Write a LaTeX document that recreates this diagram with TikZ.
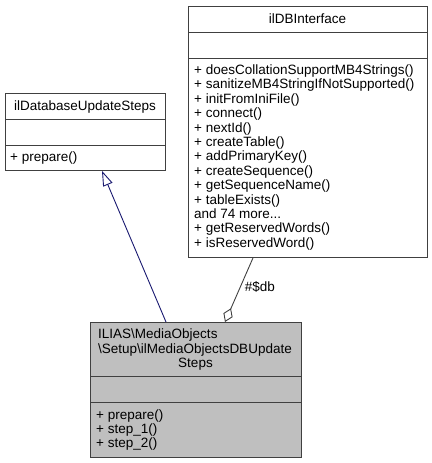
\documentclass[tikz,border=0pt]{standalone}
\usepackage{fontspec}
\setmainfont{Liberation Sans}
\usetikzlibrary{arrows.meta,calc}
\definecolor{edgeblue}{RGB}{25,25,112}
\definecolor{boxline}{RGB}{64,64,64}
\begin{document}
\begin{tikzpicture}[x=1pt,y=-1pt,
  box/.style={draw=boxline, line width=0.9pt, inner sep=0pt, anchor=north west},
  txt/.style={anchor=base west, inner sep=0pt, font=\fontsize{13.5}{14.4}\selectfont},
  ttl/.style={anchor=base, inner sep=0pt, font=\fontsize{13.5}{14.4}\selectfont},
  sepline/.style={draw=boxline, line width=0.9pt},
  inh/.style={draw=edgeblue, line width=0.9pt, -{Triangle[open,length=15pt,width=10pt]}},
  agg/.style={draw=boxline, line width=0.9pt, {Diamond[open,length=15pt,width=10pt]}-}]
\useasboundingbox (0,0) rectangle (431,463);
% ilDBInterface
\node[box, minimum width=239pt, minimum height=251pt] (dbi) at (188,6) {};
\draw[sepline] ($(dbi.north west)+(0,26)$) -- ($(dbi.north east)+(0,26)$);
\draw[sepline] ($(dbi.north west)+(0,52)$) -- ($(dbi.north east)+(0,52)$);
\node[ttl] (dbit) at (307.5,23.5) {ilDBInterface};
\foreach \t [count=\i from 0] in {%
  {+ doesCollationSupportMB4Strings()},
  {+ sanitizeMB4StringIfNotSupported()},
  {+ initFromIniFile()},
  {+ connect()},
  {+ nextId()},
  {+ createTable()},
  {+ addPrimaryKey()},
  {+ createSequence()},
  {+ getSequenceName()},
  {+ tableExists()},
  {and 74 more{.}{.}{.}},
  {+ getReservedWords()},
  {+ isReservedWord()}}
  \node[txt] (dbim\i) at (194,74.5+14.4*\i) {\t};
% ilDatabaseUpdateSteps
\node[box, minimum width=160pt, minimum height=77pt] (steps) at (5,93) {};
\draw[sepline] ($(steps.north west)+(0,26)$) -- ($(steps.north east)+(0,26)$);
\draw[sepline] ($(steps.north west)+(0,52)$) -- ($(steps.north east)+(0,52)$);
\node[ttl] (stepst) at (85,110.5) {ilDatabaseUpdateSteps};
\node[txt] (stepsm) at (10,161.5) {+ prepare()};
% class
\node[box, fill=gray!50, minimum width=211pt, minimum height=135pt] (cls) at (90,322) {};
\draw[sepline] ($(cls.north west)+(0,54)$) -- ($(cls.north east)+(0,54)$);
\draw[sepline] ($(cls.north west)+(0,80)$) -- ($(cls.north east)+(0,80)$);
\node[txt] (clst1) at (98,338.5) {ILIAS\textbackslash MediaObjects};
\node[txt] (clst2) at (98,353) {\textbackslash Setup\textbackslash ilMediaObjectsDBUpdate};
\node[ttl] (clst3) at (195.5,367.5) {Steps};
\node[txt] (clsm1) at (96,419) {+ prepare()};
\node[txt] (clsm2) at (96,433.4) {+ step\_1()};
\node[txt] (clsm3) at (96,447.8) {+ step\_2()};
% edges
\draw[inh] ($(cls.north west)+(76,0)$) -- ($(steps.south west)+(97,0)$);
\draw[agg] ($(cls.north west)+(135,0)$) -- ($(dbi.south west)+(65,0)$)
  node[pos=0.55, right=4pt, inner sep=0pt, font=\fontsize{13.5}{14.4}\selectfont] (dblbl) {\#\$db};
\end{tikzpicture}
\end{document}
